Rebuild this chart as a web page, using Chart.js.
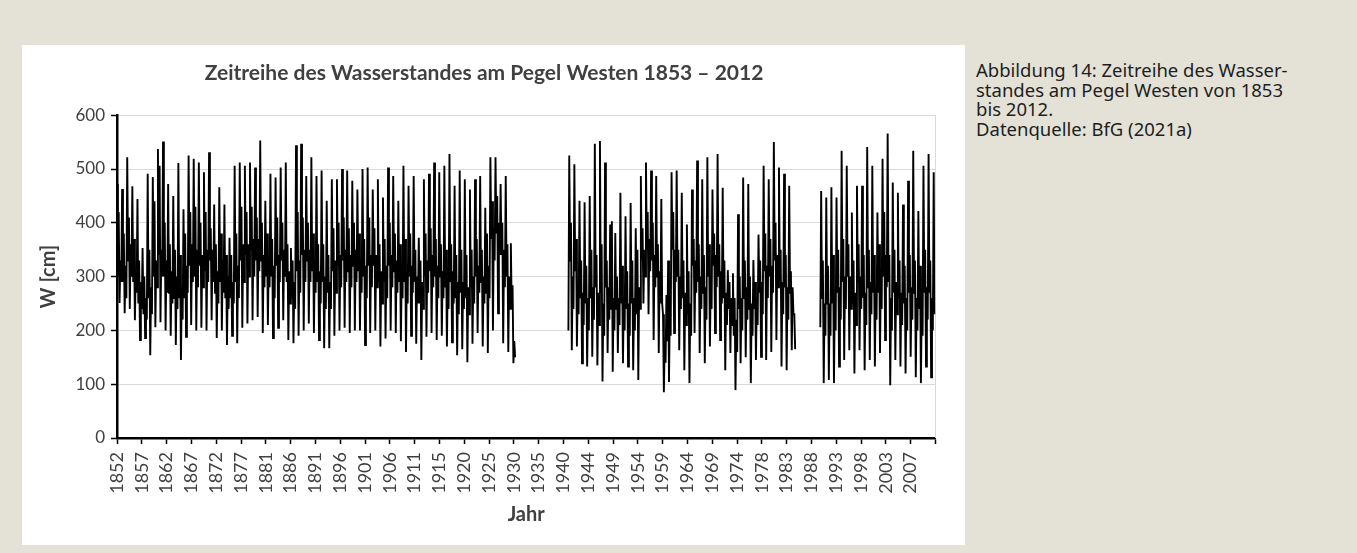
<!DOCTYPE html>
<html lang="de">
<head>
<meta charset="utf-8">
<title>Zeitreihe des Wasserstandes am Pegel Westen</title>
<script src="https://cdn.jsdelivr.net/npm/chart.js@4.4.1/dist/chart.umd.min.js"></script>
<style>
  html, body { margin: 0; padding: 0; }
  body { width: 1357px; height: 553px; background: #e4e2d6; position: relative; overflow: hidden; }
  #panel { position: absolute; left: 22px; top: 45px; width: 943px; height: 500px; background: #ffffff; }
  #caption { position: absolute; left: 976px; top: 60px; width: 378px; font-family: "Noto Sans", sans-serif;
             font-size: 18.5px; line-height: 19.5px; color: #1e1e1e; white-space: nowrap; }
</style>
</head>
<body>
<div id="panel"><canvas id="chart" width="943" height="500"></canvas></div>
<div id="caption">Abbildung 14: Zeitreihe des Wasser-<br>standes am Pegel Westen von 1853<br>bis 2012.<br>Datenquelle: BfG (2021a)</div>
<script>
// Water level W [cm] at gauge Westen, six readings per hydrological year:
// winter peak, spring fall, spring rise, late-summer low, autumn, early winter.
const samplesPerYear = 6;

// 1852 - 1929
const levels1852 = [
  472, 300, 420, 251, 330, 290,   463, 290, 380, 232, 320, 260,   522, 330, 410, 240, 360, 300,
  468, 290, 370, 219, 310, 270,   444, 250, 330, 182, 290, 240,   353, 230, 300, 186, 260, 220,
  491, 260, 350, 154, 280, 230,   485, 300, 440, 206, 330, 280,   537, 340, 506, 215, 350, 300,
  551, 300, 400, 200, 330, 270,   472, 270, 360, 190, 310, 250,   450, 260, 350, 173, 300, 240,
  511, 260, 340, 145, 280, 220,   425, 260, 380, 188, 320, 270,   525, 320, 420, 210, 360, 290,
  519, 300, 430, 200, 350, 280,   512, 320, 400, 205, 340, 280,   494, 310, 420, 200, 350, 290,
  531, 330, 390, 219, 350, 290,   434, 270, 360, 186, 310, 250,   466, 290, 380, 200, 330, 270,
  434, 260, 340, 173, 300, 240,   372, 260, 340, 190, 290, 250,   506, 290, 380, 176, 320, 260,
  512, 330, 430, 205, 360, 290,   506, 340, 420, 213, 360, 300,   512, 350, 430, 219, 370, 300,
  503, 330, 410, 225, 370, 310,   553, 330, 400, 195, 340, 280,   441, 300, 380, 210, 330, 280,
  491, 300, 370, 186, 320, 260,   484, 320, 410, 205, 340, 290,   503, 330, 400, 219, 350, 300,
  512, 290, 360, 182, 310, 250,   353, 260, 330, 176, 290, 240,   544, 310, 420, 190, 330, 270,
  547, 340, 410, 200, 350, 290,   487, 330, 400, 213, 350, 290,   522, 310, 380, 195, 330, 270,
  487, 290, 360, 182, 310, 250,   497, 290, 360, 167, 300, 240,   441, 270, 340, 167, 290, 240,
  481, 310, 390, 190, 330, 270,   481, 320, 400, 200, 340, 280,   500, 330, 410, 205, 350, 290,
  497, 310, 390, 195, 340, 280,   478, 320, 400, 200, 350, 290,   462, 310, 380, 200, 330, 270,
  500, 300, 370, 173, 320, 260,   503, 320, 410, 195, 340, 280,   462, 320, 390, 200, 340, 280,
  481, 290, 360, 170, 310, 250,   447, 290, 370, 185, 320, 260,   503, 320, 400, 200, 340, 280,
  487, 310, 380, 195, 330, 270,   441, 290, 360, 180, 310, 260,   506, 290, 370, 160, 310, 250,
  469, 300, 380, 190, 320, 270,   487, 290, 350, 175, 300, 250,   372, 250, 330, 145, 290, 240,
  481, 300, 380, 188, 330, 270,   491, 310, 390, 195, 340, 280,   512, 300, 370, 182, 320, 260,
  494, 300, 360, 190, 310, 260,   506, 280, 350, 170, 300, 240,   528, 290, 360, 178, 310, 250,
  469, 260, 340, 154, 290, 230,   497, 270, 350, 165, 290, 240,   481, 260, 340, 141, 280, 230,
  462, 280, 350, 175, 300, 250,   481, 300, 370, 195, 320, 270,   487, 290, 350, 170, 300, 250,
  428, 270, 380, 158, 320, 260,   522, 370, 440, 200, 390, 330,   522, 380, 450, 232, 400, 340,
  472, 340, 400, 176, 350, 280,   487, 300, 360, 160, 300, 240,   362, 240, 284, 139, 180, 150
];

// spring 1940 - mid 1984
const levels1940 = [
  200,
  525, 330, 400, 163, 300, 240,   509, 310, 370, 170, 280, 230,   441, 260, 330, 139, 270, 210,
  438, 250, 320, 133, 260, 200,   450, 260, 350, 151, 280, 220,   547, 280, 340, 135, 270, 210,
  552, 270, 360, 105, 250, 190,   512, 280, 330, 158, 280, 220,   397, 240, 403, 123, 260, 200,
  381, 240, 300, 158, 260, 210,   456, 250, 320, 139, 260, 200,   412, 240, 310, 133, 250, 190,
  437, 250, 330, 126, 260, 200,   390, 230, 350, 108, 280, 240,   487, 330, 390, 250, 350, 300,
  512, 350, 420, 230, 370, 310,   497, 330, 400, 182, 340, 280,   487, 300, 360, 158, 310, 250,
  444, 250, 230,  85, 180, 140,   266, 180, 330, 104, 240, 190,   494, 350, 420, 195, 350, 290,
  497, 300, 350, 163, 300, 240,   456, 260, 330, 126, 270, 210,   397, 230, 310, 102, 250, 190,
  462, 320, 370, 195, 330, 270,   516, 290, 360, 158, 300, 240,   481, 270, 340, 139, 280, 220,
  522, 300, 360, 170, 300, 240,   462, 320, 380, 195, 340, 280,   528, 300, 360, 182, 310, 250,
  465, 260, 330, 126, 270, 210,   312, 240, 290, 158, 260, 210,   306, 190, 260,  89, 220, 160,
  416, 240, 300, 139, 260, 200,   484, 260, 330, 150, 280, 220,   472, 240, 300, 102, 250, 190,
  331, 240, 290, 145, 260, 210,   378, 270, 330, 151, 290, 230,   506, 310, 380, 145, 320, 260,
  481, 300, 370, 160, 320, 270,   550, 330, 400, 182, 340, 280,   503, 290, 350, 133, 290, 230,
  491, 280, 340, 126, 280, 220,   469, 270, 310, 163, 280, 230,
  230, 165
];

// summer 1989 - 2011
const levels1989 = [
  206,
  459, 260, 330, 102, 250, 190,   447, 250, 320, 108, 250, 190,   466, 250, 340, 102, 260, 200,
  447, 270, 350, 133, 280, 220,   534, 290, 370, 145, 300, 240,   506, 300, 360, 163, 300, 240,
  419, 250, 330, 120, 270, 210,   469, 290, 360, 163, 300, 240,   469, 260, 340, 126, 270, 210,
  541, 280, 350, 145, 290, 230,   506, 270, 340, 133, 280, 220,   419, 270, 360, 158, 300, 240,
  519, 300, 420, 182, 340, 280,   566, 290, 340,  98, 260, 200,   475, 270, 350, 145, 290, 230,
  456, 260, 330, 133, 270, 210,   434, 250, 320, 120, 260, 200,   478, 270, 340, 151, 280, 220,
  534, 270, 330, 113, 260, 200,   422, 240, 320, 102, 250, 190,   506, 270, 350, 133, 280, 220,
  528, 270, 330, 113, 260, 200,
  494, 230
];

// first sample (decimal year) of each record block
const segmentStarts = [1852.0, 1940.25, 1989.5];
const segmentLevels = [levels1852, levels1940, levels1989];

// year labels written under the axis, evenly spaced along the record
const tickLabels = ['1852','1857','1862','1867','1872','1877','1881','1886','1891','1896','1901',
  '1906','1911','1915','1920','1925','1930','1935','1940','1944','1949','1954','1959','1964',
  '1969','1974','1978','1983','1988','1993','1998','2003','2007'];
const yearFirst = 1852, yearLast = 2012;

const points = [];
segmentLevels.forEach((vals, s) => {
  vals.forEach((v, i) => points.push({ x: segmentStarts[s] + i / samplesPerYear, y: v }));
  // break the line where the record has no readings
  points.push({ x: segmentStarts[s] + vals.length / samplesPerYear, y: null });
});

const textColor = '#404040';
const fontFamily = 'Lato, "Open Sans", sans-serif';

const plotFrame = {
  id: 'plotFrame',
  beforeDatasetsDraw(chart) {
    const { ctx, chartArea } = chart;
    ctx.save();
    ctx.strokeStyle = '#d9d9d9';
    ctx.lineWidth = 1;
    ctx.beginPath();
    ctx.moveTo(Math.round(chartArea.right) + 0.5, chartArea.top);
    ctx.lineTo(Math.round(chartArea.right) + 0.5, chartArea.bottom);
    ctx.stroke();
    ctx.restore();
  }
};

new Chart(document.getElementById('chart'), {
  type: 'line',
  data: {
    datasets: [{
      label: 'W [cm]',
      data: points,
      borderColor: '#000000',
      borderWidth: 1.9,
      pointRadius: 0,
      tension: 0,
      spanGaps: false
    }]
  },
  options: {
    responsive: false,
    animation: false,
    devicePixelRatio: 1,
    layout: { padding: { left: 0, right: 19, top: 0, bottom: 0 } },
    plugins: {
      legend: { display: false },
      tooltip: { enabled: false },
      title: {
        display: true,
        text: 'Zeitreihe des Wasserstandes am Pegel Westen 1853 – 2012',
        color: textColor,
        font: { family: fontFamily, size: 21, weight: 'bold' },
        padding: { top: 16, bottom: 29 }
      }
    },
    scales: {
      x: {
        type: 'linear',
        min: yearFirst,
        max: yearLast,
        afterBuildTicks(scale) {
          const n = tickLabels.length;
          const step = (yearLast - yearFirst) / n;
          const ticks = [];
          for (let k = 0; k <= n; k++) ticks.push({ value: yearFirst + k * step });
          scale.ticks = ticks;
        },
        afterFit(scale) { scale.height = 107; },
        ticks: {
          autoSkip: false,
          minRotation: 90,
          maxRotation: 90,
          padding: 8,
          color: textColor,
          font: { family: fontFamily, size: 18 },
          callback: (value, index) => tickLabels[index] || ''
        },
        grid: { drawOnChartArea: false, drawTicks: true, tickLength: 6, tickColor: '#000000', tickWidth: 1.5 },
        border: { color: '#000000', width: 2.5 },
        title: {
          display: true,
          text: 'Jahr',
          color: textColor,
          font: { family: fontFamily, size: 20, weight: 'bold' },
          padding: { top: 0, bottom: 18 }
        }
      },
      y: {
        min: 0,
        max: 600,
        afterFit(scale) { scale.width = 95; },
        ticks: {
          stepSize: 100,
          padding: 6,
          color: textColor,
          font: { family: fontFamily, size: 17 }
        },
        grid: { color: '#d9d9d9', lineWidth: 1, tickLength: 6, tickColor: '#000000', tickWidth: 1.5 },
        border: { color: '#000000', width: 2.5 },
        title: {
          display: true,
          text: 'W [cm]',
          color: textColor,
          font: { family: fontFamily, size: 20, weight: 'bold' },
          padding: { top: 15, bottom: 0 }
        }
      }
    }
  },
  plugins: [plotFrame]
});
</script>
</body>
</html>
